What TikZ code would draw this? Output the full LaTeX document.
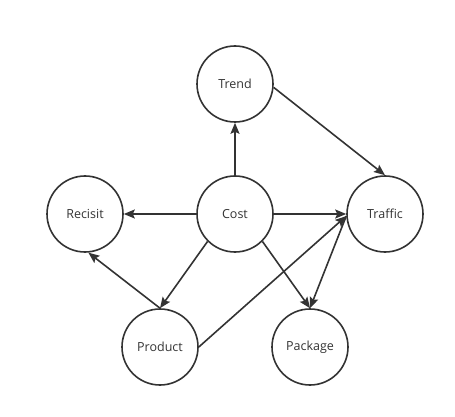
\documentclass[tikz,border=0pt]{standalone}
\usepackage{fontspec}
\setmainfont{Open Sans}
\usetikzlibrary{arrows.meta}
\definecolor{ink}{HTML}{333333}
\begin{document}
\begin{tikzpicture}[x=1pt,y=-1pt,
  circ/.style={draw=ink,line width=1.6pt,circle,minimum size=76pt,inner sep=0pt,font=\fontsize{12.5}{13}\selectfont,text=ink},
  conn/.style={draw=ink,line width=1.6pt,-{Stealth[length=11pt,width=9pt,inset=2pt]}}]
\useasboundingbox (0,0) rectangle (455,417);
\node[circ] (trend) at (235,84) {Trend};
\node[circ] (cost) at (235,214) {Cost};
\node[circ] (recisit) at (85,214) {Recisit};
\node[circ] (traffic) at (385,214) {Traffic};
\node[circ] (product) at (160,347) {Product};
\node[circ] (package) at (310,347) {Package};
\draw[conn] (cost.north) -- (trend.south);
\draw[conn] (cost.west) -- (recisit.east);
\draw[conn] (cost.east) -- (traffic.west);
\draw[conn] (trend.-5) -- (traffic.north);
\draw[conn] (cost.225) -- (product.north);
\draw[conn] (cost.-45) -- (package.north);
\draw[conn] (traffic.183) -- (package.north);
\draw[conn] (product.east) -- (traffic.183);
\draw[conn] (product.north) -- (recisit.-85);
\end{tikzpicture}
\end{document}
